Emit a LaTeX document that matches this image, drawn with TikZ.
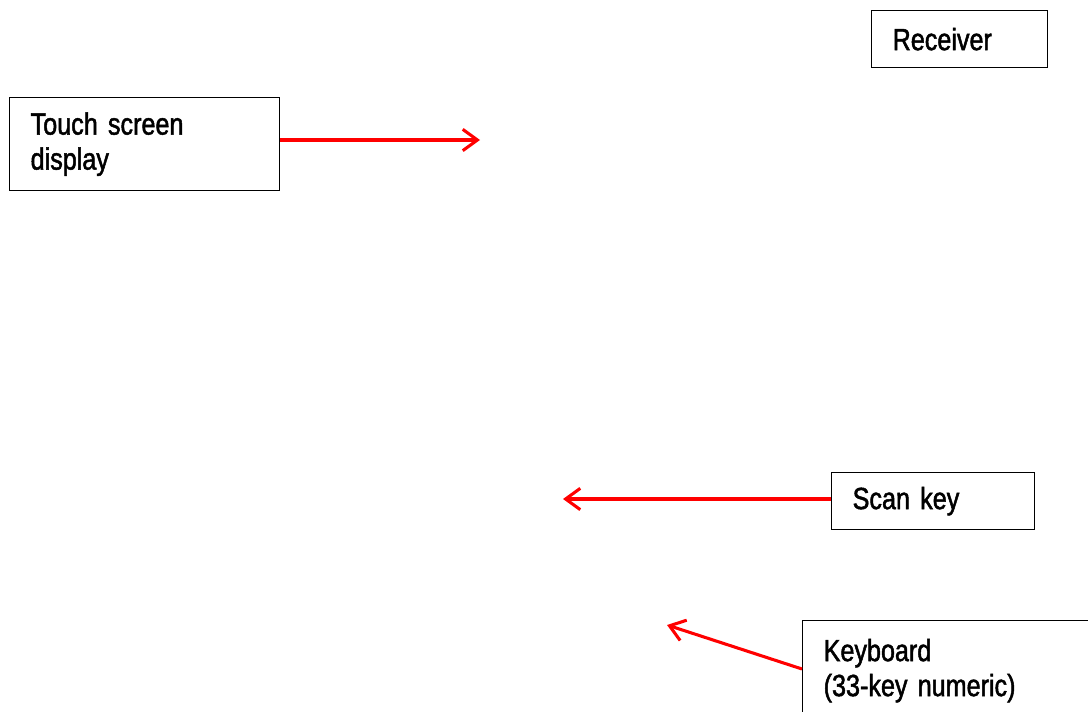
\documentclass[tikz,border=0pt]{standalone}
\usepackage{fontspec}
\setmainfont[FakeStretch=0.82, FakeBold=1.6]{Liberation Sans}
\usepackage{tikz}
\usetikzlibrary{arrows.meta,positioning}
\tikzstyle{block} = [draw, rectangle, anchor=north west, line width=1pt, inner xsep=15.75pt, inner ysep=0pt, align=left, font=\fontsize{23}{26.25}\selectfont]
\tikzstyle{pointer} = [draw=red, line width=2.3pt, -{Straight Barb[length=11pt, width=16pt, line width=2.3pt]}]

\begin{document}
\begin{tikzpicture}[x=0.75pt, y=-0.75pt]
	  \useasboundingbox (0,0) rectangle (1088,712);
	  \clip (0,0) rectangle (1088,712);
	  \node [block, minimum width=202.5pt, minimum height=69.75pt, text width=171pt] (touch) at (9,97) {Touch screen\\display};
	  \node [block, minimum width=132pt, minimum height=42.75pt, text width=100.5pt] (receiver) at (871,10) {Receiver};
	  \node [block, minimum width=152.25pt, minimum height=42.75pt, text width=120.75pt] (scan) at (831,472) {Scan key};
	  \node [block, minimum width=240pt, minimum height=75pt, text width=208.5pt] (keyboard) at (802,620) {Keyboard\\(33-key numeric)};

	  \coordinate (touchtip) at (480,140);
	  \coordinate (scantip) at (563,499);
	  \coordinate (keytip) at (667,625);

	  \draw [pointer] (touch.east |- touchtip) -- (touchtip);
	  \draw [pointer] (scan.west |- scantip) -- (scantip);
	  \draw [pointer] (keyboard.west |- 0,669) -- (keytip);
	\end{tikzpicture}
\end{document}
